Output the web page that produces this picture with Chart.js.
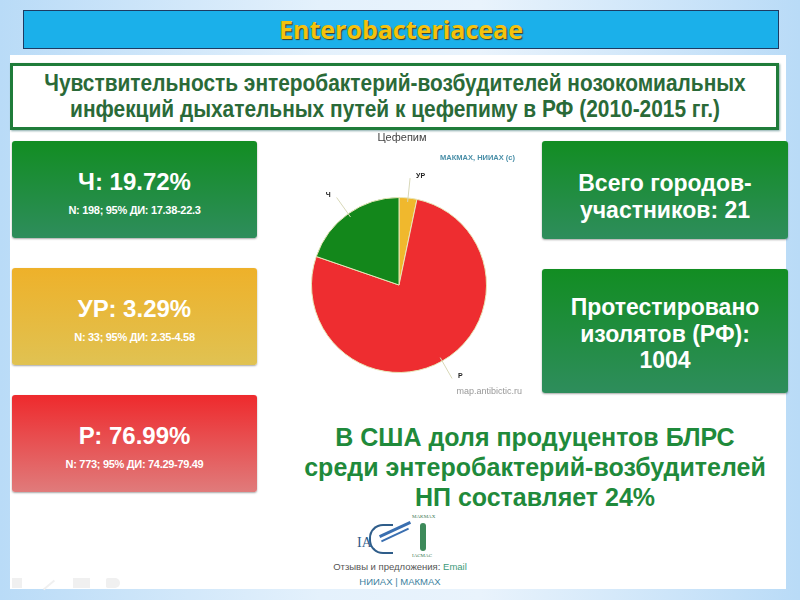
<!DOCTYPE html>
<html>
<head>
<meta charset="utf-8">
<script src="https://cdn.jsdelivr.net/npm/chart.js@4.4.1/dist/chart.umd.min.js"></script>
<style>
  html, body { margin: 0; padding: 0; }
  body {
    width: 800px; height: 600px; position: relative; overflow: hidden;
    background: linear-gradient(90deg, #b9dbf7 0%, #e4f1fc 40%, #e9f3fc 60%, #b9dbf7 100%);
    font-family: "Liberation Sans", Arial, sans-serif;
  }
  .abs { position: absolute; }
  #panel { left: 10px; top: 55px; width: 776px; height: 534px; background: #fff; }
  #banner {
    left: 23px; top: 10px; width: 754px; height: 37px;
    background: #1bb0ea; border: 1px solid #1d3b63;
    text-align: center; line-height: 37px;
    font-family: "Open Sans", Lato, sans-serif; font-weight: 700; font-size: 25px;
    color: #f4c20d; text-shadow: 1px 1px 1px #3b3b2a;
  }
  #head {
    left: 10px; top: 63px; width: 763px; height: 61px;
    border: 3px solid #1f7c3a; box-shadow: 1px 1px 2px #8aa;
    color: #2a6a38;
  }
  #head span {
    position: absolute; left: 50%; top: 4px; text-align: center;
    transform: translateX(-50%) scaleX(0.87);
    font-weight: bold; font-size: 24px; line-height: 26px; white-space: nowrap;
  }
  .card {
    position: absolute; border-radius: 3px; color: #fff; text-align: center;
    box-shadow: 0 1px 2px rgba(0,0,0,0.35);
  }
  .lc { left: 12px; width: 245px; height: 97px; }
  .lc .big { font-weight: bold; font-size: 24px; margin-top: 27px; line-height: 28px; }
  .lc .sm { font-weight: bold; font-size: 11px; margin-top: 8px; letter-spacing: -0.3px; }
  .g { background: linear-gradient(180deg, #128d22 0%, #2e8d5c 100%); }
  .y { background: linear-gradient(180deg, #eeb12a 0%, #e0c252 100%); }
  .r { background: linear-gradient(180deg, #ee2a2d 0%, #e07b7b 100%); }
  .rc { left: 542px; width: 246px; font-weight: bold; font-size: 23px; line-height: 26.5px; }
  #usa {
    left: 285px; top: 422px; width: 500px; text-align: center;
    color: #1f8a3b; font-weight: bold; font-size: 25px; line-height: 30px;
  }
  #foot1 { left: 300px; top: 561px; width: 200px; text-align: center; font-size: 9.5px; color: #555; }
  #foot2 { left: 300px; top: 576px; width: 200px; text-align: center; font-size: 9.5px; color: #3d7fa0; }
  .ic { position: absolute; top: 578px; height: 10px; background: #f0f0f0; }
</style>
</head>
<body>
<div id="panel" class="abs"></div>
<div id="banner" class="abs">Enterobacteriaceae</div>
<div id="head" class="abs"><span>Чувствительность энтеробактерий-возбудителей нозокомиальных<br>инфекций дыхательных путей к цефепиму в РФ (2010-2015 гг.)</span></div>

<div class="card lc g" style="top:141px"><div class="big" id="c0"></div><div class="sm" id="s0"></div></div>
<div class="card lc y" style="top:268px"><div class="big" id="c1"></div><div class="sm" id="s1"></div></div>
<div class="card lc r" style="top:395px"><div class="big" id="c2"></div><div class="sm" id="s2"></div></div>

<div class="card rc g" style="top:141px;height:98px;padding-top:29px;box-sizing:border-box">Всего городов-<br>участников: 21</div>
<div class="card rc g" style="top:269px;height:124px;padding-top:25px;box-sizing:border-box">Протестировано<br>изолятов (РФ):<br>1004</div>

<div class="abs" style="left:290px;top:128px;width:240px;height:272px">
  <canvas id="pie" width="240" height="272"></canvas>
</div>

<div id="usa" class="abs">В США доля продуцентов БЛРС<br>среди энтеробактерий-возбудителей<br>НП составляет 24%</div>

<!-- logos, roughly -->
<div class="abs" style="left:357px;top:535px;font-family:'Liberation Serif',serif;font-size:14px;color:#2f5d8a">IA</div>
<div class="abs" style="left:369px;top:524px;width:22px;height:26px;border:2px solid #2f5d8a;border-right:none;border-radius:14px 0 0 14px"></div>
<div class="abs" style="left:378px;top:528px;width:34px;height:3px;background:#3a6fb0;transform:rotate(-25deg)"></div>
<div class="abs" style="left:380px;top:534px;width:30px;height:2px;background:#3a6fb0;transform:rotate(-25deg)"></div>
<div class="abs" style="left:412px;top:514px;font-size:5px;color:#3d7a55;font-family:'Liberation Serif',serif">MAKMAX</div>
<div class="abs" style="left:420px;top:523px;width:6px;height:28px;background:#3d8a5a;border-radius:3px"></div>
<div class="abs" style="left:412px;top:553px;font-size:5px;color:#3d7a55;font-family:'Liberation Serif',serif">IACMAC</div>
<div id="foot1" class="abs">Отзывы и предложения: <span style="color:#3d9a7a">Email</span></div>
<div id="foot2" class="abs">НИИАХ | МАКМАХ</div>

<div class="ic" style="left:12px;width:10px"></div>
<div class="ic" style="left:42px;width:14px;height:2px;top:584px;transform:rotate(-40deg)"></div>
<div class="ic" style="left:73px;width:17px"></div>
<div class="ic" style="left:106px;width:14px;border-radius:2px 6px 6px 2px"></div>

<script>
const labels = ["УР", "Р", "Ч"];
const values = [3.29, 76.99, 19.72];
const colors = ["#f0b82d", "#ee2d30", "#13871b"];

const cardTitles = ["Ч: 19.72%", "УР: 3.29%", "Р: 76.99%"];
const cardNotes = ["N: 198; 95% ДИ: 17.38-22.3", "N: 33; 95% ДИ: 2.35-4.58", "N: 773; 95% ДИ: 74.29-79.49"];
cardTitles.forEach((t, i) => {
  document.getElementById("c" + i).textContent = t;
  document.getElementById("s" + i).textContent = cardNotes[i];
});

// title, copyright and labels outside the pie with a short leader line
const outLabels = {
  id: "outLabels",
  afterDatasetsDraw(chart) {
    const ctx = chart.ctx;
    const meta = chart.getDatasetMeta(0);
    ctx.save();
    ctx.font = "11px 'Liberation Sans'";
    ctx.fillStyle = "#444";
    ctx.textAlign = "center";
    ctx.textBaseline = "middle";
    ctx.fillText("Цефепим", 112, 10);
    meta.data.forEach((arc, i) => {
      let mid = (arc.startAngle + arc.endAngle) / 2;
      let r = arc.outerRadius;
      let x1 = arc.x + Math.cos(mid) * (r - 4), y1 = arc.y + Math.sin(mid) * (r - 4);
      let x2 = arc.x + Math.cos(mid) * (r + 20), y2 = arc.y + Math.sin(mid) * (r + 20);
      ctx.strokeStyle = "#d8d8b8";
      ctx.lineWidth = 1;
      ctx.beginPath();
      ctx.moveTo(x1, y1);
      ctx.lineTo(x2, y2);
      ctx.stroke();
      ctx.fillStyle = "#222";
      ctx.font = "bold 7px 'Liberation Sans'";
      let right = Math.cos(mid) >= 0;
      ctx.textAlign = right ? "left" : "right";
      ctx.fillText(labels[i], x2 + (right ? 6 : -6), y2 - 2);
    });
    ctx.font = "bold 7.5px 'Liberation Sans'";
    ctx.fillStyle = "#4a8fa8";
    ctx.textAlign = "right";
    ctx.fillText("МАКМАХ, НИИАХ (с)", 225, 30);
    ctx.font = "9px 'Liberation Sans'";
    ctx.fillStyle = "#999";
    ctx.fillText("map.antibictic.ru", 232, 264);
    ctx.restore();
  }
};

new Chart(document.getElementById("pie"), {
  type: "pie",
  data: {
    labels: labels,
    datasets: [{
      data: values,
      backgroundColor: colors,
      borderColor: "#e8e6b8",
      borderWidth: 1
    }]
  },
  options: {
    responsive: false,
    animation: false,
    layout: { padding: { left: 21, right: 43, top: 69, bottom: 27 } },
    plugins: {
      legend: { display: false },
      tooltip: { enabled: false },
      title: { display: false }
    }
  },
  plugins: [outLabels]
});
</script>
</body>
</html>
